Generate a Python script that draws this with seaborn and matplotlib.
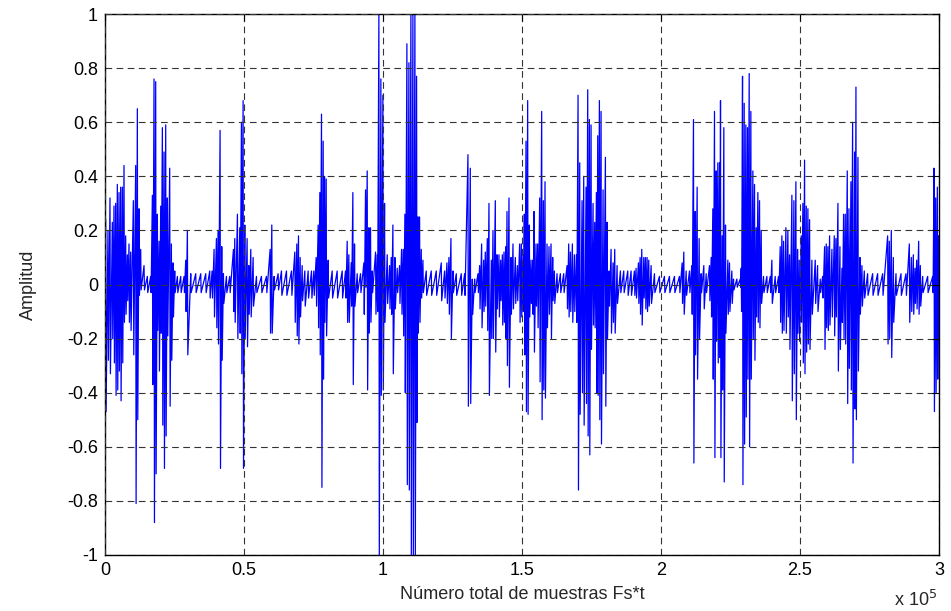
import numpy as np
import pandas as pd
import seaborn as sns
import matplotlib
matplotlib.use("Agg")
import matplotlib.pyplot as plt

# envelope of the recording: sample index, upper and lower peak
sample_pos = [
    240, 1080, 1800, 2640, 3240, 3840, 4440, 5040, 5640, 6240, 6840, 7440, 8040, 8640, 9240,
    10200, 11040, 11640, 12240, 12840, 14040, 15240, 16440, 17040, 17640, 18240, 18840, 19440,
    20040, 20640, 21240, 21840, 22440, 23280, 23880, 24480, 25080, 26040, 27240, 28440, 29040,
    29640, 30840, 32640, 34440, 36240,
    37680, 38520, 39240, 40080, 40680, 41400, 42000, 42600, 43680, 44880, 46200, 46680, 47640,
    48480, 49080, 49680, 50280, 51120, 51720, 52440, 53280, 54480, 56280, 58080, 59400, 60000,
    60840, 62280, 63480, 65280, 67080, 68280, 69000, 69600, 70200, 70920, 71880, 73080, 74280,
    75120, 75960, 76680, 77280, 77880, 78480, 78960, 79560, 80280, 81720, 83520, 85320, 86520,
    87120, 87720, 88560, 89160, 89760, 90720, 91920, 93120, 93720, 94320, 94920, 95520, 96120,
    97320, 97920, 98520, 99240, 99960, 100560, 101520, 102360, 102960, 103560, 104280, 105120,
    105960, 106680, 107280, 107880, 108600, 109320, 110040, 110760, 111480, 112080,
    112560, 113160, 113760, 114360, 115560, 117360, 119160, 120960, 122160, 123000, 123720,
    124440, 125160, 126360, 128160, 129360, 130560, 131400, 132120, 132960, 134160, 134760,
    135480, 136200, 136800, 137520, 138120, 138960, 139560, 140400, 141000, 141720, 142320,
    142920, 143520, 144120, 144600, 145320, 146040, 146760, 147600, 148320, 149160,
    149760, 150360, 150840, 151440, 152040, 152640, 153240, 153840, 154320, 155040, 155640,
    156360, 157080, 157680, 158280, 159000, 159720, 160440, 161040, 161640, 162600, 163800,
    165000, 166200, 166800, 167400, 168120, 168840, 169560, 170160, 170760, 171600, 172200,
    173040, 173640, 174240, 174840, 175560, 176160, 176760, 177240, 177840, 178440, 179160,
    180000, 180600, 181320, 182040, 182760, 183360, 184200, 185400, 186600,
    188040, 189240, 190440, 191040, 191880, 192480, 193080, 193800, 194400, 195000, 195600,
    196440, 197640, 199440, 201240, 203040, 204840, 206640, 207600, 208200, 209040, 210240,
    211080, 211680, 212280, 213000, 213720, 214440, 215400, 216240, 217440, 218040, 218640,
    219240, 219840, 220440, 221040, 221400, 222000, 222600, 223200, 224040,
    224640, 225480, 226080, 227280, 228480, 228840, 229320, 229920, 230520, 231120, 231720,
    232320, 233040, 233640, 234240, 234840, 235440, 236040, 236880, 238080, 239280, 239880,
    241080, 242280, 242880, 243480, 244080, 244920, 245640, 246240, 247080, 247800, 248520,
    249120, 249720, 250440, 251040, 251640, 252240, 252840, 253440, 254280, 255480, 256320,
    257280, 258120, 258840, 259440, 260040, 260640, 261480,
    262320, 262920, 263640, 264360, 265080, 265680, 266280, 267000, 267600, 268320, 268920,
    269640, 270120, 270840, 271560, 272280, 273120, 274320, 276120, 277920, 279720, 281520,
    282120, 282840, 283560, 284520, 286320, 288120, 289320, 290040, 290760, 291360, 291960,
    292680, 293280, 294120, 295920, 297720, 298200, 298800, 299400, 299880,
]
env_hi = [
    0.24, 0.20, 0.32, 0.23, 0.29, 0.30, 0.37, 0.34, 0.36, 0.36, 0.44, 0.18, 0.11, 0.15, 0.12,
    0.31, 0.44, 0.65, 0.28, 0.13, 0.07, 0.03, 0.03, 0.33, 0.76, 0.75, 0.26, 0.16,
    0.29, 0.58, 0.49, 0.59, 0.32, 0.43, 0.15, 0.08, 0.05, 0.03, 0.03, 0.03, 0.09,
    0.20, 0.04, 0.04, 0.04, 0.04,
    0.05, 0.05, 0.13, 0.17, 0.20, 0.57, 0.14, 0.04, 0.03, 0.03, 0.13, 0.17, 0.26,
    0.21, 0.60, 0.68, 0.22, 0.17, 0.07, 0.13, 0.10, 0.03, 0.03, 0.03, 0.13, 0.22,
    0.03, 0.04, 0.05, 0.05, 0.05, 0.12, 0.15, 0.18, 0.10, 0.07, 0.05, 0.05, 0.05,
    0.05, 0.10, 0.22, 0.34, 0.63, 0.53, 0.40, 0.39, 0.09, 0.05, 0.05, 0.05, 0.05,
    0.16, 0.11, 0.08, 0.34, 0.15, 0.04, 0.04, 0.08, 0.35, 0.42, 0.21, 0.21, 0.05,
    0.12, 0.11, 1.00, 0.76, 0.70, 0.30, 0.11, 0.07, 0.10, 0.22, 0.10, 0.06,
    0.07, 0.13, 0.13, 0.26, 0.89, 0.82, 1.00, 1.00, 1.00, 0.77,
    0.25, 0.25, 0.13, 0.09, 0.05, 0.05, 0.05, 0.08, 0.05, 0.08, 0.10,
    0.17, 0.05, 0.04, 0.04, 0.04, 0.48, 0.43, 0.02, 0.02, 0.04, 0.07,
    0.15, 0.09, 0.12, 0.17, 0.30, 0.09, 0.20, 0.31, 0.11, 0.11, 0.09,
    0.11, 0.12, 0.14, 0.27, 0.32, 0.10, 0.15, 0.10, 0.07, 0.15,
    0.15, 0.11, 0.26, 0.53, 0.68, 0.22, 0.09, 0.09, 0.27, 0.15, 0.15,
    0.32, 0.64, 0.31, 0.38, 0.15, 0.14, 0.15, 0.10, 0.05, 0.04, 0.04,
    0.04, 0.07, 0.15, 0.12, 0.15, 0.11, 0.11, 0.70, 0.45, 0.31, 0.40,
    0.36, 0.72, 0.61, 0.59, 0.30, 0.23, 0.34, 0.55, 0.68, 0.64, 0.35,
    0.47, 0.23, 0.05, 0.13, 0.08, 0.13, 0.07, 0.05, 0.05,
    0.05, 0.05, 0.05, 0.06, 0.08, 0.10, 0.13, 0.10, 0.10, 0.10, 0.09,
    0.07, 0.04, 0.03, 0.03, 0.03, 0.03, 0.03, 0.08, 0.12, 0.05, 0.05,
    0.07, 0.61, 0.27, 0.36, 0.17, 0.04, 0.07, 0.04, 0.07, 0.10, 0.28,
    0.64, 0.42, 0.45, 0.45, 0.68, 0.18, 0.58, 0.22, 0.09,
    0.08, 0.05, 0.02, 0.02, 0.02, 0.06, 0.77, 0.67, 0.59, 0.58, 0.78,
    0.64, 0.42, 0.37, 0.21, 0.34, 0.31, 0.20, 0.03, 0.03, 0.03, 0.09,
    0.03, 0.03, 0.14, 0.18, 0.16, 0.21, 0.20, 0.11, 0.33, 0.31, 0.38,
    0.13, 0.09, 0.18, 0.30, 0.46, 0.29, 0.28, 0.24, 0.09, 0.09, 0.07,
    0.02, 0.03, 0.14, 0.15, 0.14, 0.18, 0.13,
    0.18, 0.17, 0.30, 0.14, 0.06, 0.26, 0.26, 0.42, 0.28, 0.38, 0.60,
    0.49, 0.73, 0.47, 0.10, 0.07, 0.05, 0.04, 0.04, 0.04, 0.04, 0.18,
    0.16, 0.20, 0.10, 0.04, 0.04, 0.04, 0.15, 0.10, 0.11, 0.06, 0.09,
    0.16, 0.07, 0.03, 0.03, 0.03, 0.43, 0.32, 0.36, 0.18,
]
env_lo = [
    -0.47, -0.28, -0.33, -0.20, -0.29, -0.41, -0.39, -0.32, -0.43, -0.29, -0.14, -0.11, -0.06, -0.14, -0.17,
    -0.26, -0.81, -0.50, -0.04, -0.02, -0.02, -0.03, -0.03, -0.37, -0.88, -0.70, -0.17, -0.32,
    -0.18, -0.52, -0.68, -0.56, -0.19, -0.45, -0.28, -0.12, -0.03, -0.03, -0.03, -0.03, -0.10,
    -0.26, -0.03, -0.03, -0.03, -0.03,
    -0.05, -0.05, -0.12, -0.16, -0.22, -0.68, -0.28, -0.07, -0.03, -0.03, -0.10, -0.14, -0.20,
    -0.18, -0.33, -0.68, -0.20, -0.23, -0.11, -0.12, -0.08, -0.03, -0.03, -0.03, -0.18, -0.18,
    -0.02, -0.02, -0.04, -0.04, -0.04, -0.14, -0.19, -0.22, -0.12, -0.06, -0.08, -0.05, -0.05,
    -0.04, -0.08, -0.16, -0.26, -0.75, -0.35, -0.14, -0.19, -0.05, -0.05, -0.05, -0.05, -0.05,
    -0.14, -0.14, -0.08, -0.37, -0.08, -0.03, -0.03, -0.11, -0.01, -0.39, -0.18, -0.14, -0.03,
    -0.11, -0.10, -1.00, -0.41, -0.39, -0.14, -0.07, -0.09, -0.11, -0.33, -0.09, -0.03,
    -0.07, -0.11, -0.19, -0.40, -0.74, -0.76, -1.00, -1.00, -1.00, -0.51,
    -0.18, -0.14, -0.05, -0.03, -0.04, -0.04, -0.04, -0.06, -0.05, -0.07, -0.11,
    -0.20, -0.03, -0.04, -0.04, -0.04, -0.45, -0.44, -0.11, -0.03, -0.03, -0.09,
    -0.16, -0.10, -0.08, -0.17, -0.41, -0.20, -0.20, -0.25, -0.09, -0.12, -0.06,
    -0.15, -0.14, -0.20, -0.30, -0.38, -0.11, -0.09, -0.07, -0.06, -0.14,
    -0.12, -0.10, -0.26, -0.47, -0.48, -0.12, -0.07, -0.11, -0.25, -0.08, -0.16,
    -0.36, -0.50, -0.39, -0.42, -0.16, -0.11, -0.20, -0.06, -0.07, -0.03, -0.03,
    -0.03, -0.09, -0.12, -0.10, -0.14, -0.10, -0.14, -0.76, -0.48, -0.40, -0.52,
    -0.44, -0.56, -0.63, -0.24, -0.15, -0.16, -0.40, -0.41, -0.50, -0.59, -0.33,
    -0.45, -0.20, -0.08, -0.18, -0.14, -0.18, -0.07, -0.03, -0.03,
    -0.04, -0.04, -0.04, -0.05, -0.07, -0.11, -0.15, -0.05, -0.09, -0.10, -0.08,
    -0.07, -0.03, -0.03, -0.03, -0.03, -0.03, -0.03, -0.07, -0.11, -0.04, -0.03,
    -0.11, -0.66, -0.26, -0.35, -0.20, -0.03, -0.09, -0.03, -0.06, -0.12, -0.35,
    -0.64, -0.21, -0.29, -0.27, -0.64, -0.39, -0.73, -0.18, -0.11,
    -0.10, -0.07, -0.02, -0.01, -0.01, -0.10, -0.74, -0.59, -0.49, -0.35, -0.60,
    -0.35, -0.20, -0.28, -0.12, -0.14, -0.16, -0.07, -0.03, -0.03, -0.03, -0.07,
    -0.03, -0.03, -0.14, -0.18, -0.17, -0.18, -0.12, -0.24, -0.43, -0.33, -0.50,
    -0.18, -0.21, -0.14, -0.29, -0.33, -0.25, -0.22, -0.24, -0.11, -0.07, -0.10,
    -0.03, -0.05, -0.24, -0.16, -0.17, -0.15, -0.12,
    -0.19, -0.12, -0.32, -0.24, -0.14, -0.20, -0.22, -0.44, -0.31, -0.39, -0.66,
    -0.46, -0.50, -0.32, -0.11, -0.08, -0.05, -0.04, -0.04, -0.04, -0.04, -0.22,
    -0.20, -0.27, -0.14, -0.04, -0.04, -0.04, -0.14, -0.10, -0.11, -0.07, -0.09,
    -0.11, -0.08, -0.03, -0.03, -0.03, -0.47, -0.40, -0.35, -0.19,
]

x_ticks = [0, 50000, 100000, 150000, 200000, 250000, 300000]
x_tick_labels = ["0", "0.5", "1", "1.5", "2", "2.5", "3"]
y_ticks = [-1, -0.8, -0.6, -0.4, -0.2, 0, 0.2, 0.4, 0.6, 0.8, 1]
y_tick_labels = ["-1", "-0.8", "-0.6", "-0.4", "-0.2", "0", "0.2", "0.4", "0.6", "0.8", "1"]

# each peak pair becomes an up stroke and a down stroke, in order
xs, ys = [], []
for x, hi, lo in zip(sample_pos, env_hi, env_lo):
    xs += [x, x + 150]
    ys += [hi, lo]
df = pd.DataFrame({"muestra": xs, "amplitud": ys})

sns.set_style("white")
plt.rcParams["font.family"] = ["Liberation Sans", "DejaVu Sans"]

fig = plt.figure(figsize=(9.51, 6.11), dpi=100)
ax = fig.add_axes([0.1104, 0.0917, 0.877, 0.8853])

sns.lineplot(data=df, x="muestra", y="amplitud", sort=False, estimator=None,
             color="#0000ff", linewidth=0.9, ax=ax)

ax.set_xlim(0, 300000)
ax.set_ylim(-1, 1)
ax.set_xticks(x_ticks)
ax.set_xticklabels(x_tick_labels)
ax.set_yticks(y_ticks)
ax.set_yticklabels(y_tick_labels)
ax.tick_params(direction="in", length=5, width=0.8, top=True, right=True,
               labelsize=13, colors="black", pad=5)
ax.grid(True, color="#333333", linestyle=(0, (6, 4)), linewidth=0.8)
ax.set_axisbelow(False)
for side in ax.spines.values():
    side.set_color("black")
    side.set_linewidth(1.0)

ax.set_xlabel("Número total de muestras Fs*t", fontsize=13, labelpad=5)
ax.set_ylabel("Amplitud", fontsize=13, labelpad=22)
ax.text(0.998, -0.095, "x 10$^5$", transform=ax.transAxes, ha="right", va="baseline",
        fontsize=13)

fig.savefig("out.png", dpi=100)
